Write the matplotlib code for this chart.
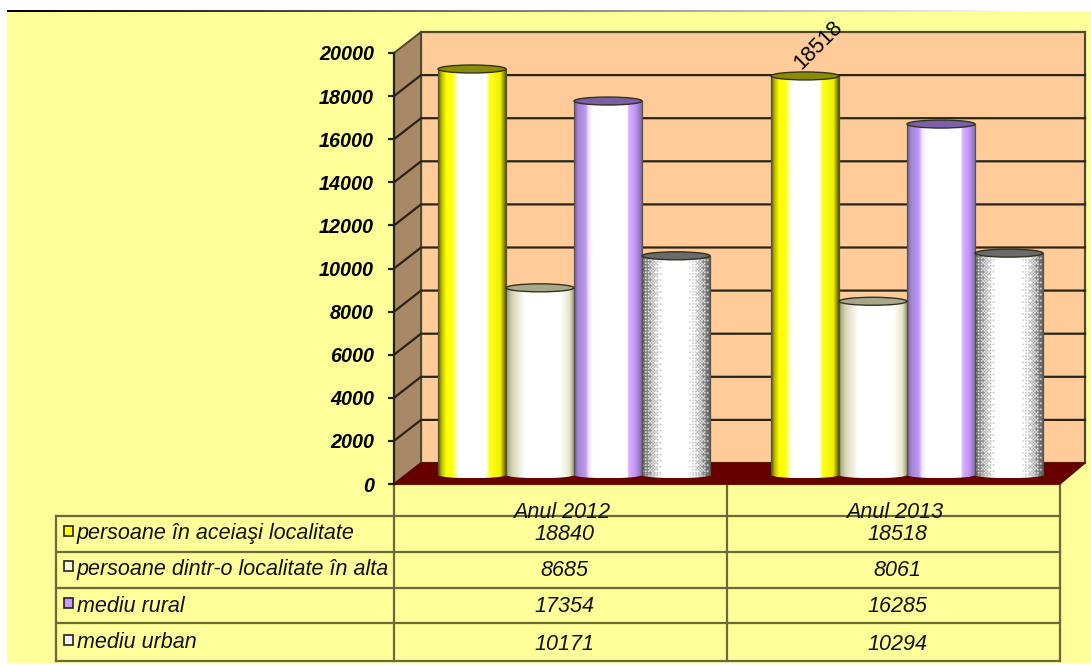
import numpy as np
import matplotlib
matplotlib.use("Agg")
import matplotlib.pyplot as plt
from matplotlib.colors import LinearSegmentedColormap
from matplotlib.patches import Ellipse, Polygon, Rectangle

plt.rcParams['font.family'] = ['Liberation Sans', 'DejaVu Sans']

# data
years = ["Anul 2012", "Anul 2013"]
series_names = ["persoane în aceiaşi localitate", "persoane dintr-o localitate în alta",
                "mediu rural", "mediu urban"]
same_locality = [18840, 18518]
other_locality = [8685, 8061]
rural = [17354, 16285]
urban = [10171, 10294]
y_ticks = list(range(0, 20001, 2000))

W, H = 1091, 666
BG = "#FFFF99"
WALL = "#FFCC99"
SIDE = "#A98866"
FLOOR = "#660000"
LINE = "#6A6A3C"
TXT = 15.5

series = [same_locality, other_locality, rural, urban]
swatches = ["#FFFF00", "#FFFFE0", "#CC99FF", "#F4F4FA"]
top_colors = ["#8C8C00", "#A8A888", "#7D5FA8", "#6A6A6A"]
gradients = [
    [(0, "#4F4F00"), (0.05, "#B8B800"), (0.12, "#FFFF00"), (0.2, "#FFFF00"), (0.3, "#FFFFFF"),
     (0.71, "#FFFFFF"), (0.76, "#FFFF20"), (0.92, "#F0F000"), (1, "#5A5A00")],
    [(0, "#A0A080"), (0.1, "#D8D8B8"), (0.28, "#FFFFFF"), (0.8, "#FFFFFF"),
     (0.93, "#E8E8CC"), (1, "#A0A080")],
    [(0, "#6F5A95"), (0.06, "#A585D5"), (0.17, "#BB99EE"), (0.22, "#F4E6FF"), (0.28, "#FFFFFF"),
     (0.78, "#FFFFFF"), (0.81, "#D8B0FF"), (0.9, "#C496F8"), (1, "#806AA8")],
    None,
]

fig = plt.figure(figsize=(W / 100, H / 100), dpi=100)

# page layer, in pixels
page = fig.add_axes([0, 0, 1, 1])
page.axis("off")
page.add_patch(Rectangle((7, 12), W - 7, 651, fc=BG, ec="none"))
fade = np.linspace(0, 1, 256).reshape(1, -1)
page.imshow(fade, extent=(7, 1040, 12, 10), cmap="gray", aspect="auto", vmin=0, vmax=1)
page.set_xlim(0, W)
page.set_ylim(H, 0)

# table under the chart
row_lines = [516, 552, 588, 623, 661]
col_lines = [394, 727, 1060]
page.plot([394, 1060], [484, 484], color=LINE, lw=1.6)
for y in row_lines:
    page.plot([56, 1060], [y, y], color=LINE, lw=1.6)
page.plot([56, 56], [516, 661], color=LINE, lw=1.6)
for x in col_lines:
    page.plot([x, x], [484, 661], color=LINE, lw=1.6)

text_rows = [533, 570, 606, 643]
value_rows = [535, 571, 607, 645]
swatch_rows = [531, 566, 603, 640]
for name, vals, sw, ty, vy, sy in zip(series_names, series, swatches, text_rows, value_rows, swatch_rows):
    page.add_patch(Rectangle((64, sy - 5), 9, 10, fc=sw, ec="#222222", lw=1.2))
    page.text(77, ty, name, style="italic", fontsize=TXT, va="center", ha="left", color="#111111")
    for cx, v in zip([564, 897], vals):
        page.text(cx, vy, str(v), style="italic", fontsize=TXT, va="center", ha="center", color="#111111")
for cx, label in zip([562, 895], years):
    page.text(cx, 512, label, style="italic", fontsize=TXT, va="center", ha="center", color="#111111")

# chart layer: x in categories, y in values, front plane of the box
ax = fig.add_axes([394 / W, 1 - 484 / H, 666 / W, 431 / H])
ax.patch.set_visible(False)
for s in ax.spines.values():
    s.set_visible(False)
ax.spines["left"].set_visible(True)
ax.spines["left"].set_linewidth(1.6)
ax.spines["left"].set_color("#222222")

DX = 27 / 333
DY = 21 / 431 * 20000
RIGHT = 2 + 25 / 333
ax.add_patch(Polygon([(DX, DY), (RIGHT, DY), (RIGHT, 20000 + DY), (DX, 20000 + DY)],
                     fc=WALL, ec="#4A4A30", lw=1.6, clip_on=False, zorder=1))
ax.add_patch(Polygon([(0, 0), (DX, DY), (DX, 20000 + DY), (0, 20000)],
                     fc=SIDE, ec="#4A4A30", lw=1.4, clip_on=False, zorder=1))
ax.add_patch(Polygon([(0, 0), (2, 0), (RIGHT, DY), (DX, DY)],
                     fc=FLOOR, ec=FLOOR, lw=1, clip_on=False, zorder=1))
for t in y_ticks[1:-1]:
    ax.plot([0, DX, RIGHT], [t, t + DY, t + DY], color="#2A2418", lw=1.6, clip_on=False, zorder=2)

ax.set_xticks([])
ax.set_yticks(y_ticks)
ax.tick_params(axis="y", length=4.3, width=1.6, color="#222222", pad=10)
for lab in ax.get_yticklabels():
    lab.set_fontsize(14.2)
    lab.set_fontweight("bold")
    lab.set_fontstyle("italic")

# cylinders
BAR_W = 68 / 333
BAR_START = 44 / 333
BASE = 9 / 431 * 20000
TOP_H = 8 / 431 * 20000
BAYER = np.array([[0, 8, 2, 10], [12, 4, 14, 6], [3, 11, 1, 9], [15, 7, 13, 5]]) / 16


def stipple(value):
    # ordered dither, darker and denser towards both edges of the cylinder
    rows = max(int(value / 20000 * 431 / 1.5), 4)
    xs = np.linspace(0, 1, 46)
    dark = np.clip(np.abs(xs - 0.5) * 2 - 0.42, 0, 1) / 0.58
    col = np.zeros((rows, xs.size))
    for r in range(rows):
        col[r] = 1 - 0.6 * (dark * 0.9 > BAYER[r % 4, np.arange(xs.size) % 4]) * (0.4 + 0.6 * dark)
    return col


for g in range(2):
    for i, vals in enumerate(series):
        left = g + BAR_START + i * BAR_W
        v = vals[g]
        ext = (left, left + BAR_W, BASE, BASE + v)
        foot_ext = (left, left + BAR_W, BASE - TOP_H * 0.4, BASE)
        if gradients[i] is None:
            img = stipple(v)
            cm = "gray"
            foot = img[:6]
        else:
            cm = LinearSegmentedColormap.from_list(f"c{i}", gradients[i])
            img = np.linspace(0, 1, 256).reshape(1, -1)
            foot = img
        ax.imshow(img, extent=ext, cmap=cm, vmin=0, vmax=1, aspect="auto",
                  interpolation="bilinear", zorder=3, clip_on=False)
        # rounded foot, the same shading cut by an ellipse
        foot_im = ax.imshow(foot, extent=foot_ext, cmap=cm, vmin=0, vmax=1, aspect="auto",
                            interpolation="bilinear", zorder=3)
        clip = Ellipse((left + BAR_W / 2, BASE), BAR_W, TOP_H * 0.8, transform=ax.transData)
        foot_im.set_clip_path(clip)
        ax.plot([left, left], [BASE, BASE + v], color="#555544", lw=0.9, zorder=3.1, clip_on=False)
        ax.plot([left + BAR_W] * 2, [BASE, BASE + v], color="#555544", lw=0.9, zorder=3.1, clip_on=False)
        ax.add_patch(Ellipse((left + BAR_W / 2, BASE + v), BAR_W, TOP_H, fc=top_colors[i],
                             ec="#333322", lw=1.0, zorder=3.2, clip_on=False))

ax.set_xlim(0, 2)
ax.set_ylim(0, 20000)

# the one data label shown on the chart
ax.annotate(str(same_locality[1]), (1 + BAR_START + BAR_W / 2, BASE + same_locality[1]),
            xytext=(10, 22), textcoords="offset points", rotation=45, fontsize=TXT,
            ha="center", va="center", color="black", zorder=5, annotation_clip=False)

fig.savefig("out.png", dpi=100)
